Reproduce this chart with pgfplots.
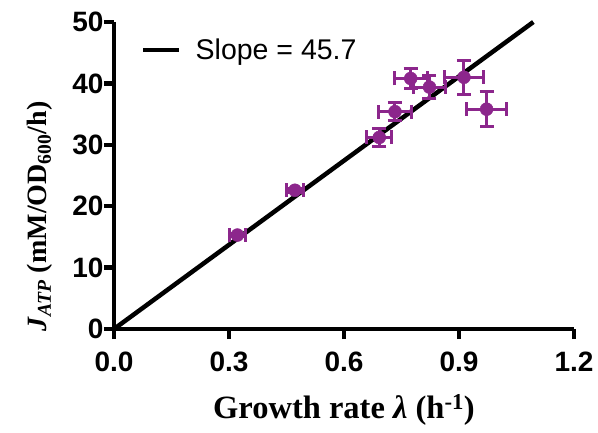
\documentclass[border=0pt]{standalone}
\usepackage{fontspec}
\setmainfont{Liberation Serif}
\setsansfont{Liberation Sans}
\usepackage{pgfplots}
\pgfplotsset{compat=1.18}
\definecolor{pur}{RGB}{140,38,140}
\begin{document}
\begin{tikzpicture}
\begin{axis}[name=ax,
  scale only axis, width=460pt, height=307pt,
  xmin=0, xmax=1.2, ymin=0, ymax=50,
  axis x line*=bottom, axis y line*=left,
  axis line style={line width=4.5pt},
  every tick/.style={line width=4.5pt, black},
  tick align=outside, major tick length=10pt,
  xtick={0,0.3,0.6,0.9,1.2}, ytick={0,10,20,30,40,50},
  minor tick num=0,
  /pgf/number format/assume math mode=true,
  xticklabel style={/pgf/number format/fixed, /pgf/number format/fixed zerofill, /pgf/number format/precision=1, yshift=-9pt},
  tick label style={font=\fontsize{28}{28}\selectfont\sffamily\bfseries},
  yticklabel style={xshift=3pt},
  xlabel={\fontsize{32.5}{32.5}\selectfont\bfseries Growth rate \textit{λ} (h\textsuperscript{-1})},
  ylabel={\fontsize{28}{28}\selectfont\bfseries\textit{J}\textsubscript{\textit{ATP}} (mM/OD\textsubscript{600}/h)},
  xlabel style={yshift=-16pt},
  ylabel style={xshift=-41pt, yshift=13pt},
  legend style={draw=none, fill=none, inner sep=0pt, at={(0.0587,0.909)}, anchor=west,
    font=\fontsize{28.5}{28.5}\selectfont\sffamily, legend cell align=left,
    /tikz/every odd column/.append style={column sep=12pt}},
  legend image code/.code={\draw[line width=4.5pt,black] (0pt,0pt) -- (36pt,0pt);},
  clip=false,
]
\addplot[black, line width=4.5pt] coordinates {(0,0) (1.094,50)};
\addlegendentry{Slope = 45.7}
\addplot[only marks, mark=*, mark size=6.5pt, color=pur, mark options={fill=pur, draw=pur},
  error bars/.cd, x dir=both, x explicit, y dir=both, y explicit,
  error bar style={line width=3pt, pur},
  error mark options={rotate=90, mark size=7pt, line width=3pt, pur}]
table[x=x, y=y, x error=ex, y error=ey] {
x y ex ey
0.322 15.3 0.021 0.3
0.472 22.6 0.022 0.3
0.692 31.2 0.033 1.4
0.733 35.4 0.042 1.5
0.774 40.8 0.043 1.7
0.823 39.4 0.042 1.9
0.913 41.0 0.052 2.8
0.972 35.8 0.052 2.9
};
\end{axis}
\pgfresetboundingbox
\path[use as bounding box] (ax.south west) ++(-114pt,-103pt) rectangle ([shift={(24pt,22pt)}]ax.north east);
\end{tikzpicture}
\end{document}
